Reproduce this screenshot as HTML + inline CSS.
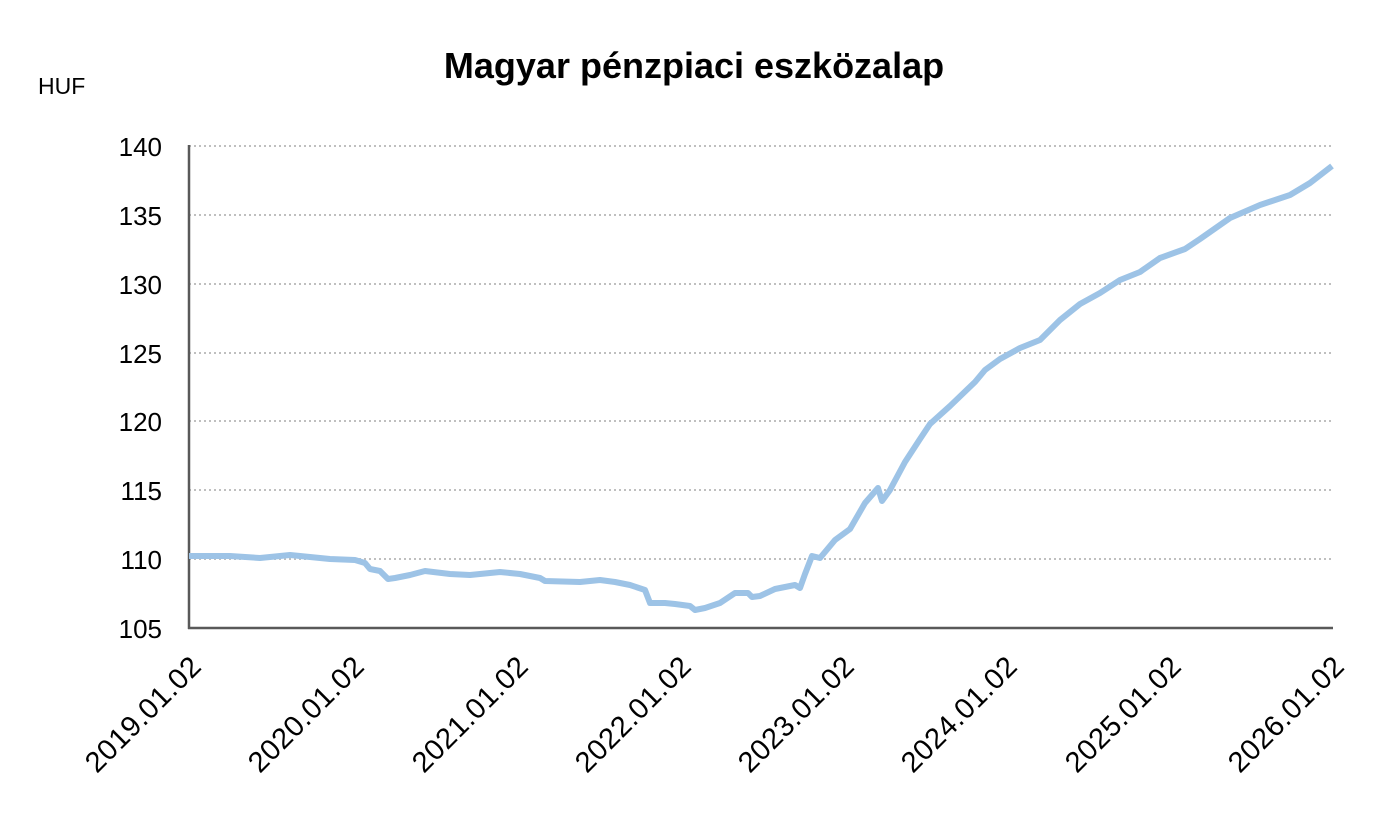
<!DOCTYPE html>
<html><head><meta charset="utf-8"><style>
html,body{margin:0;padding:0;background:#fff;}
svg{display:block;font-family:"Liberation Sans",sans-serif;}
</style></head><body>
<svg width="1386" height="815" viewBox="0 0 1386 815" xmlns="http://www.w3.org/2000/svg">
<rect width="1386" height="815" fill="#fff"/>
<text x="694" y="78" text-anchor="middle" font-size="36" font-weight="bold" fill="#000">Magyar pénzpiaci eszközalap</text>
<text x="38" y="94" font-size="23" fill="#000">HUF</text>
<g stroke="#bfbfbf" stroke-width="2" stroke-dasharray="2,3">
<line x1="189" x2="1332" y1="146" y2="146"/>
<line x1="189" x2="1332" y1="215" y2="215"/>
<line x1="189" x2="1332" y1="284" y2="284"/>
<line x1="189" x2="1332" y1="353" y2="353"/>
<line x1="189" x2="1332" y1="421" y2="421"/>
<line x1="189" x2="1332" y1="490" y2="490"/>
<line x1="189" x2="1332" y1="559" y2="559"/>
</g>
<g font-size="26" fill="#000" text-anchor="end">
<text x="162" y="156">140</text>
<text x="162" y="225">135</text>
<text x="162" y="294">130</text>
<text x="162" y="363">125</text>
<text x="162" y="431">120</text>
<text x="162" y="500">115</text>
<text x="162" y="569">110</text>
<text x="162" y="638">105</text>
</g>
<g stroke="#595959" stroke-width="2.5" fill="none">
<line x1="189" y1="145" x2="189" y2="629"/>
<line x1="188" y1="628" x2="1333" y2="628"/>
</g>
<polyline fill="none" stroke="#9dc3e6" stroke-width="6" stroke-linejoin="round" points="
189,556 230,556 260,558 290,555 330,559 355,560 365,563 370,569 380,571 388,579 395,578 410,575 425,571 450,574 470,575 500,572 520,574 540,578 545,581 580,582 600,580 615,582 630,585 645,590 650,603 665,603 675,604 690,606 695,610 705,608 720,603 735,593 748,593 752,597 760,596 775,589 795,585 800,588 805,574 812,556 820,558 835,540 850,529 865,503 878,488 882,501 890,490 905,462 920,439 930,424 950,406 975,382 985,370 1000,359 1020,348 1040,340 1060,320 1080,304 1100,293 1120,280 1140,272 1160,258 1185,249 1200,239 1230,218 1260,205 1290,195 1310,183 1332,166"/>
<g font-size="29" fill="#000" text-anchor="end" letter-spacing="0.5">
<text transform="translate(203,668) rotate(-45)">2019.01.02</text>
<text transform="translate(366,668) rotate(-45)">2020.01.02</text>
<text transform="translate(530,668) rotate(-45)">2021.01.02</text>
<text transform="translate(693,668) rotate(-45)">2022.01.02</text>
<text transform="translate(856,668) rotate(-45)">2023.01.02</text>
<text transform="translate(1019,668) rotate(-45)">2024.01.02</text>
<text transform="translate(1183,668) rotate(-45)">2025.01.02</text>
<text transform="translate(1346,668) rotate(-45)">2026.01.02</text>
</g>
</svg>
</body></html>
